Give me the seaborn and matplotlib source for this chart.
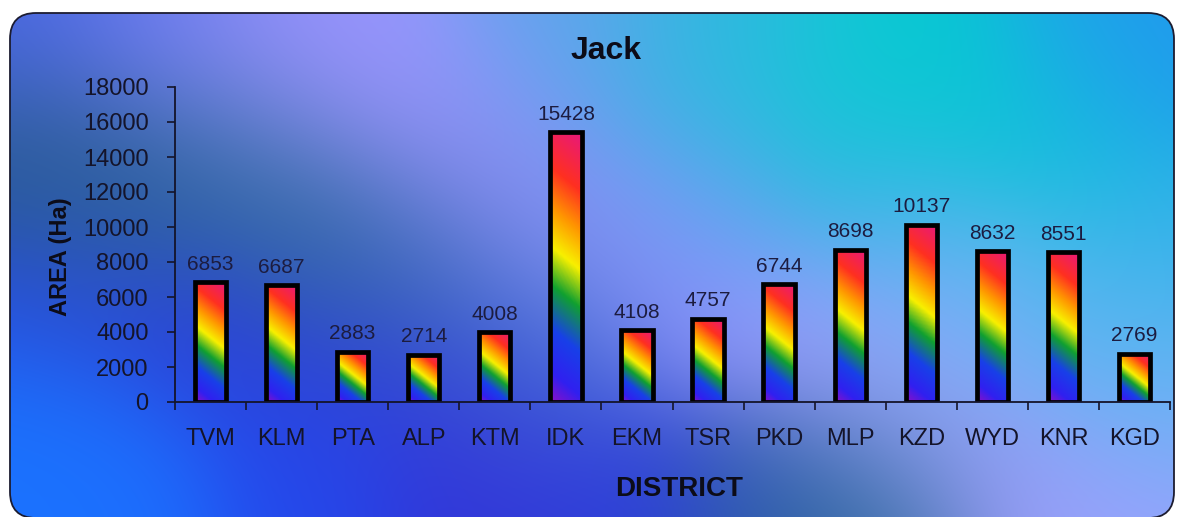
import numpy as np
import pandas as pd
import matplotlib
matplotlib.use("Agg")
import matplotlib.pyplot as plt
import seaborn as sns
from matplotlib.colors import LinearSegmentedColormap, to_rgb
from matplotlib.patches import FancyBboxPatch

# ---- data ----
districts = ["TVM", "KLM", "PTA", "ALP", "KTM", "IDK", "EKM", "TSR", "PKD", "MLP", "KZD", "WYD", "KNR", "KGD"]
areas = [6853, 6687, 2883, 2714, 4008, 15428, 4108, 4757, 6744, 8698, 10137, 8632, 8551, 2769]
y_ticks = [0, 2000, 4000, 6000, 8000, 10000, 12000, 14000, 16000, 18000]
title = "Jack"
x_label = "DISTRICT"
y_label = "AREA (Ha)"

df = pd.DataFrame({"district": districts, "area": areas})

sns.set_theme(style="white")
plt.rcParams["font.family"] = ["Liberation Sans", "DejaVu Sans"]

W, H = 1179, 517
fig = plt.figure(figsize=(W / 100, H / 100), dpi=100)
fig.patch.set_facecolor("white")

# ---- background gradient (rounded panel) ----
bg = fig.add_axes([0, 0, 1, 1])
bg.set_xlim(0, W)
bg.set_ylim(H, 0)
bg.axis("off")

ctrl = [
    # top-left / lavender band
    (30, 30, "#4a68e8"), (150, 40, "#7480f4"), (280, 70, "#9a94ff"), (400, 110, "#9c96ff"),
    (480, 170, "#948ff8"), (560, 60, "#60a4ec"),
    # dark teal left-middle
    (40, 150, "#285a8c"), (120, 200, "#2c6296"), (230, 170, "#306aa0"), (330, 230, "#2f6a9c"),
    (420, 260, "#3a6cb8"),
    # blue lower-left
    (60, 300, "#2a4ce0"), (200, 330, "#2c40dc"), (360, 360, "#3040d8"), (30, 440, "#1a74ff"),
    (120, 500, "#1c70ff"), (300, 480, "#2448ec"), (480, 470, "#3230d8"), (620, 490, "#2c3cdc"),
    # bottom center teal
    (760, 490, "#2c5ca8"), (880, 495, "#2e6a98"), (520, 400, "#3850d8"),
    # lavender diagonal middle-right
    (590, 230, "#8a92f8"), (680, 300, "#9490ff"), (820, 350, "#a0a0ff"), (930, 410, "#a2a4ff"),
    (1020, 470, "#9c9cf8"), (1130, 500, "#a0a0ff"), (560, 340, "#4a7ad0"),
    # cyan top-right
    (700, 70, "#30b8e0"), (820, 110, "#10c8d4"), (960, 90, "#04cad0"), (1060, 160, "#10c4d8"),
    (1160, 40, "#2094f0"), (1100, 60, "#20a8e8"), (1150, 230, "#30b0ea"), (900, 220, "#40b4ea"),
    (720, 200, "#5aa8ee"),
    # light blue right-middle
    (1030, 300, "#58b8f0"), (1130, 330, "#56b6f0"), (1150, 410, "#68b4f4"), (960, 320, "#80b0f8"),
]
gx, gy = np.meshgrid(np.arange(0, W, 3), np.arange(0, H, 3))
num = np.zeros(gx.shape + (3,))
den = np.zeros(gx.shape)
sig = 75.0
for cx, cy, c in ctrl:
    w = np.exp(-((gx - cx) ** 2 + (gy - cy) ** 2) / (2 * sig ** 2)) + 1e-12
    num += w[..., None] * np.array(to_rgb(c))
    den += w
img = num / den[..., None]
im = bg.imshow(img, extent=(0, W, H, 0), interpolation="bicubic", zorder=0)
panel = FancyBboxPatch((10, 13), 1164, 505, boxstyle="round,pad=0,rounding_size=26",
                       facecolor="none", edgecolor="#1c1c30", linewidth=1.3, zorder=2,
                       transform=bg.transData)
bg.add_patch(panel)
im.set_clip_path(panel)

# ---- main chart ----
ax = fig.add_axes([175 / W, 1 - 402 / H, (1170 - 175) / W, (402 - 87) / H])
ax.set_facecolor("none")
sns.barplot(data=df, x="district", y="area", ax=ax, width=0.44, color="white",
            edgecolor="black", linewidth=3.4, saturation=1)

rainbow = LinearSegmentedColormap.from_list("rb", [
    (0.00, "#8a10c8"), (0.10, "#3020f0"), (0.25, "#1840e8"), (0.40, "#10a030"),
    (0.53, "#f8f000"), (0.66, "#ff9800"), (0.80, "#ff3020"), (1.00, "#e8187c")])

ax.set_xlim(-0.5, len(districts) - 0.5)
ax.set_ylim(0, 18000)
fig.canvas.draw()
s = 0.8
for p in ax.patches:
    x0, y0 = p.get_x(), p.get_y()
    w_, h_ = p.get_width(), p.get_height()
    (px0, py0), (px1, py1) = ax.transData.transform([(x0, y0), (x0 + w_, y0 + h_)])
    hp, wp = abs(py1 - py0), abs(px1 - px0)
    ny, nx = max(int(hp), 2), max(int(wp), 2)
    yy, xx = np.meshgrid(np.linspace(0, hp, ny), np.linspace(0, wp, nx), indexing="ij")
    t = (yy + s * xx) / (hp + s * wp)
    grad = rainbow(t)
    bim = ax.imshow(grad, extent=(x0, x0 + w_, y0, y0 + h_), origin="lower",
                    aspect="auto", interpolation="bilinear", zorder=1.5)
    bim.set_clip_path(p)
    p.set_facecolor("none")
    p.set_zorder(2)

ax.set_xlim(-0.5, len(districts) - 0.5)
ax.set_ylim(0, 18000)
ax.set_yticks(y_ticks)
ax.set_yticklabels([str(v) for v in y_ticks])

# value labels
for i, v in enumerate(areas):
    ax.annotate(str(v), (i, v), xytext=(0, 6), textcoords="offset points",
                ha="center", va="bottom", fontsize=15, color="#1c1c40")

# axes styling
for sp in ["top", "right"]:
    ax.spines[sp].set_visible(False)
for sp in ["left", "bottom"]:
    ax.spines[sp].set_color("#14142a")
    ax.spines[sp].set_linewidth(1.3)
ax.set_xticks(np.arange(len(districts)))
ax.set_xticklabels(districts)
ax.set_xticks(np.arange(-0.5, len(districts)), minor=True)
ax.tick_params(axis="x", which="major", length=0, pad=19, labelsize=17, labelcolor="#14142a")
ax.tick_params(axis="x", which="minor", length=6, width=1.2, color="#14142a", direction="out", bottom=True)
ax.tick_params(axis="y", which="major", length=6, width=1.2, color="#14142a", left=True,
               pad=13, labelsize=17, labelcolor="#14142a")

ax.set_xlabel(x_label, fontsize=20, fontweight="bold", color="#0c0c18")
ax.xaxis.set_label_coords(0.507, -0.235)
ax.set_ylabel(y_label, fontsize=17, fontweight="bold", color="#0c0c18")
ax.yaxis.set_label_coords((72 - 175) / (1170 - 175), (402 - 257) / (402 - 87))
fig.text(606 / W, 1 - 51 / H, title, ha="center", va="center", fontsize=23,
         fontweight="bold", color="#0c0c18")

fig.savefig("out.png", dpi=100)
